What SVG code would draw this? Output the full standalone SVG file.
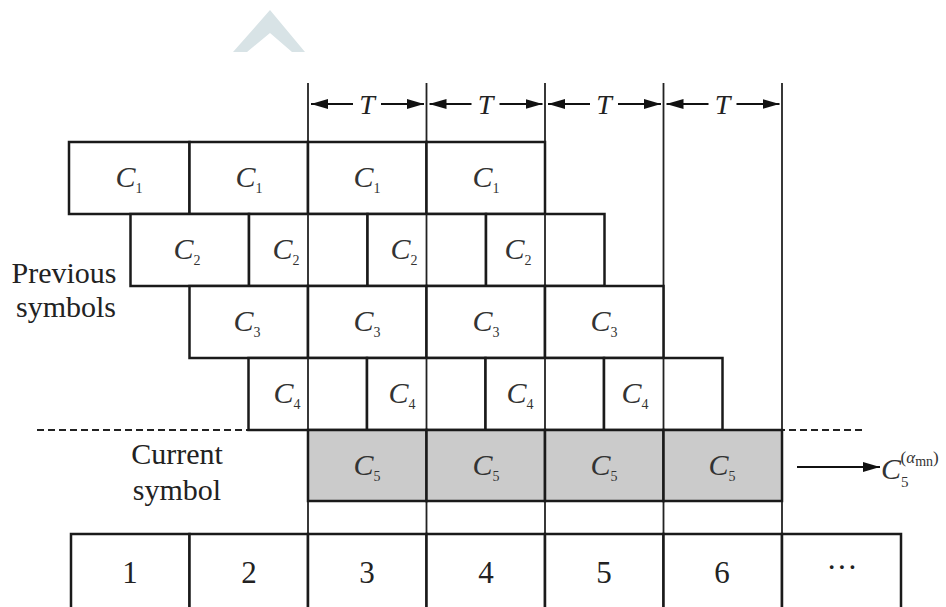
<svg xmlns="http://www.w3.org/2000/svg" width="946" height="607" viewBox="0 0 946 607">
<style>
.box{fill:#fff;stroke:#1a1a1a;stroke-width:2.5}
.gbox{fill:#cbcbcb;stroke:#1a1a1a;stroke-width:2.5}
.grid{stroke:#222;stroke-width:1.8;fill:none}
.dash{stroke:#222;stroke-width:1.8;stroke-dasharray:7 4;fill:none}
.arr{stroke:#111;stroke-width:2;fill:none}
.c{font-family:"Liberation Serif","Times New Roman","DejaVu Serif",serif;font-style:italic;font-size:30px;fill:#333;text-anchor:middle}
.s{font-style:normal;font-size:14px}
.lbl{font-family:"Liberation Serif","Times New Roman","DejaVu Serif",serif;font-size:30px;fill:#222;text-anchor:middle}
.num{font-family:"Liberation Serif","Times New Roman","DejaVu Serif",serif;font-size:31px;fill:#222;text-anchor:middle}
.t{font-family:"Liberation Serif","Times New Roman","DejaVu Serif",serif;font-style:italic;font-size:28px;fill:#222;text-anchor:middle}
</style>
<defs>
<marker id="ah" viewBox="0 0 10 10" refX="10" refY="5" markerWidth="17" markerHeight="10" markerUnits="userSpaceOnUse" orient="auto-start-reverse" preserveAspectRatio="none">
<path d="M0,0 L10,5 L0,10 z" fill="#111"/>
</marker>
</defs>
<rect width="946" height="607" fill="#fff"/>
<!-- faint watermark -->
<path d="M233,52 L270,10 L305,52 L292,52 L270,33 L247,52 z" fill="#d8e3e6"/>

<g id="connectors">
  <!-- grid lines -->
  <line class="grid" x1="308" y1="83" x2="308" y2="534"/>
  <line class="grid" x1="426.5" y1="83" x2="426.5" y2="534"/>
  <line class="grid" x1="545" y1="83" x2="545" y2="534"/>
  <line class="grid" x1="663.5" y1="83" x2="663.5" y2="534"/>
  <line class="grid" x1="782" y1="83" x2="782" y2="534"/>
  <!-- T period arrows -->
  <line class="arr" x1="353" y1="104" x2="311" y2="104" marker-end="url(#ah)"/>
  <line class="arr" x1="381" y1="104" x2="424" y2="104" marker-end="url(#ah)"/>
  <line class="arr" x1="471.5" y1="104" x2="429.5" y2="104" marker-end="url(#ah)"/>
  <line class="arr" x1="499.5" y1="104" x2="542.5" y2="104" marker-end="url(#ah)"/>
  <line class="arr" x1="590" y1="104" x2="548" y2="104" marker-end="url(#ah)"/>
  <line class="arr" x1="618" y1="104" x2="661" y2="104" marker-end="url(#ah)"/>
  <line class="arr" x1="708.5" y1="104" x2="666.5" y2="104" marker-end="url(#ah)"/>
  <line class="arr" x1="736.5" y1="104" x2="779.5" y2="104" marker-end="url(#ah)"/>
  <!-- dashed separator -->
  <line class="dash" x1="37" y1="430" x2="249" y2="430"/>
  <line class="dash" x1="723" y1="430" x2="862" y2="430"/>
  <!-- output arrow -->
  <line class="arr" x1="797" y1="467" x2="880" y2="467" marker-end="url(#ah)"/>
</g>

<g id="period-labels">
  <text class="t" x="367" y="114">T</text>
  <text class="t" x="485.5" y="114">T</text>
  <text class="t" x="604" y="114">T</text>
  <text class="t" x="722.5" y="114">T</text>
</g>

<g id="row-c1">
  <rect class="box" x="69" y="142" width="120.5" height="72"/>
  <rect class="box" x="189.5" y="142" width="118.5" height="72"/>
  <rect class="box" x="308" y="142" width="118.5" height="72"/>
  <rect class="box" x="426.5" y="142" width="118.5" height="72"/>
  <text class="c" x="129" y="187">C<tspan class="s" dy="6">1</tspan></text>
  <text class="c" x="249" y="187">C<tspan class="s" dy="6">1</tspan></text>
  <text class="c" x="367" y="187">C<tspan class="s" dy="6">1</tspan></text>
  <text class="c" x="486" y="187">C<tspan class="s" dy="6">1</tspan></text>
</g>

<g id="row-c2">
  <rect class="box" x="130.5" y="214" width="118.5" height="72"/>
  <rect class="box" x="249" y="214" width="118.5" height="72"/>
  <rect class="box" x="367.5" y="214" width="118.5" height="72"/>
  <rect class="box" x="486" y="214" width="118.5" height="72"/>
  <line class="grid" x1="308" y1="214" x2="308" y2="286"/>
  <line class="grid" x1="426.5" y1="214" x2="426.5" y2="286"/>
  <line class="grid" x1="545" y1="214" x2="545" y2="286"/>
  <text class="c" x="187" y="259">C<tspan class="s" dy="6">2</tspan></text>
  <text class="c" x="286" y="259">C<tspan class="s" dy="6">2</tspan></text>
  <text class="c" x="404" y="259">C<tspan class="s" dy="6">2</tspan></text>
  <text class="c" x="518" y="259">C<tspan class="s" dy="6">2</tspan></text>
</g>

<g id="row-c3">
  <rect class="box" x="189.5" y="286" width="118.5" height="72"/>
  <rect class="box" x="308" y="286" width="118.5" height="72"/>
  <rect class="box" x="426.5" y="286" width="118.5" height="72"/>
  <rect class="box" x="545" y="286" width="118.5" height="72"/>
  <text class="c" x="247" y="331">C<tspan class="s" dy="6">3</tspan></text>
  <text class="c" x="367" y="331">C<tspan class="s" dy="6">3</tspan></text>
  <text class="c" x="486" y="331">C<tspan class="s" dy="6">3</tspan></text>
  <text class="c" x="604" y="331">C<tspan class="s" dy="6">3</tspan></text>
</g>

<g id="row-c4">
  <rect class="box" x="248.5" y="358" width="118.5" height="72"/>
  <rect class="box" x="367" y="358" width="118.5" height="72"/>
  <rect class="box" x="485.5" y="358" width="118.5" height="72"/>
  <rect class="box" x="604" y="358" width="118.5" height="72"/>
  <line class="grid" x1="308" y1="358" x2="308" y2="430"/>
  <line class="grid" x1="426.5" y1="358" x2="426.5" y2="430"/>
  <line class="grid" x1="545" y1="358" x2="545" y2="430"/>
  <line class="grid" x1="663.5" y1="358" x2="663.5" y2="430"/>
  <text class="c" x="287" y="403">C<tspan class="s" dy="6">4</tspan></text>
  <text class="c" x="402" y="403">C<tspan class="s" dy="6">4</tspan></text>
  <text class="c" x="520" y="403">C<tspan class="s" dy="6">4</tspan></text>
  <text class="c" x="635" y="403">C<tspan class="s" dy="6">4</tspan></text>
</g>

<g id="current-symbol">
  <rect class="gbox" x="308" y="430" width="118.5" height="71"/>
  <rect class="gbox" x="426.5" y="430" width="118.5" height="71"/>
  <rect class="gbox" x="545" y="430" width="118.5" height="71"/>
  <rect class="gbox" x="663.5" y="430" width="118.5" height="71"/>
  <text class="c" x="367" y="475">C<tspan class="s" dy="6">5</tspan></text>
  <text class="c" x="486" y="475">C<tspan class="s" dy="6">5</tspan></text>
  <text class="c" x="604" y="475">C<tspan class="s" dy="6">5</tspan></text>
  <text class="c" x="722" y="475">C<tspan class="s" dy="6">5</tspan></text>
</g>

<g id="output">
  <text class="c" x="881" y="479" style="text-anchor:start">C<tspan class="s" dy="8" style="font-size:15px">5</tspan><tspan class="s" dx="-8" dy="-24" style="font-size:17px">(</tspan><tspan class="s" style="font-style:italic;font-size:17px">α</tspan><tspan class="s" dy="3" style="font-size:14px">mn</tspan><tspan class="s" dy="-3" style="font-size:17px">)</tspan></text>
</g>

<g id="labels">
  <text class="lbl" x="64" y="283">Previous</text>
  <text class="lbl" x="66" y="317">symbols</text>
  <text class="lbl" x="177" y="464">Current</text>
  <text class="lbl" x="177" y="500">symbol</text>
</g>

<g id="time-slots">
  <rect class="box" x="71" y="534" width="118.5" height="76"/>
  <rect class="box" x="189.5" y="534" width="118.5" height="76"/>
  <rect class="box" x="308" y="534" width="118.5" height="76"/>
  <rect class="box" x="426.5" y="534" width="118.5" height="76"/>
  <rect class="box" x="545" y="534" width="118.5" height="76"/>
  <rect class="box" x="663.5" y="534" width="118.5" height="76"/>
  <rect class="box" x="782" y="534" width="119" height="76"/>
  <text class="num" x="130" y="583">1</text>
  <text class="num" x="249" y="583">2</text>
  <text class="num" x="367" y="583">3</text>
  <text class="num" x="486" y="583">4</text>
  <text class="num" x="604" y="583">5</text>
  <text class="num" x="722" y="583">6</text>
  <text class="num" x="842" y="578">···</text>
</g>
</svg>
